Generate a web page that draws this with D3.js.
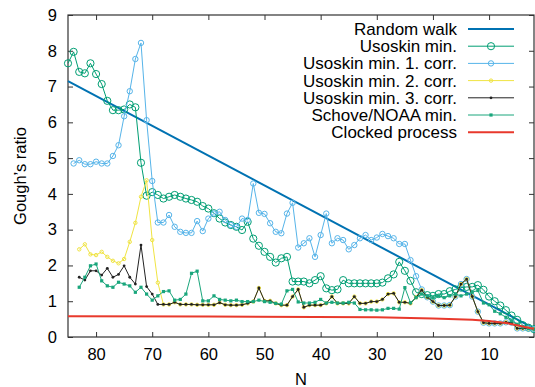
<!DOCTYPE html>
<html>
<head>
<meta charset="utf-8">
<script src="https://cdn.jsdelivr.net/npm/d3@7"></script>
<style>
  body { margin: 0; background: #fff; }
  svg { display: block; }
  text { font-family: "Liberation Sans", Arial, Helvetica, sans-serif; }
</style>
</head>
<body>
<div id="chart"></div>
<script>
// taille du dessin
const width = 535, height = 387;
const margin = { top: 15, right: 1, bottom: 50, left: 68 };

// ---- données ----
const xTicks = [80, 70, 60, 50, 40, 30, 20, 10];
const yTicks = [0, 1, 2, 3, 4, 5, 6, 7, 8, 9];

const randomWalkN = [85, 2];
const randomWalkVals = [7.15, 0.24];

// Usoskin min., N = 85 .. 2
const usoskinStart = 85;
const usoskinVals = [7.65, 7.97, 7.41, 7.37, 7.65, 7.35, 7.07, 6.6, 6.34, 6.34,
  6.36, 6.5, 6.42, 4.87, 3.95, 4.05, 3.97, 3.87, 3.92, 3.97,
  3.92, 3.87, 3.83, 3.78, 3.66, 3.59, 3.46, 3.31, 3.2, 3.13,
  3.08, 2.99, 3.22, 2.75, 2.55, 2.38, 2.24, 2.08, 2.2, 2.24,
  1.55, 1.55, 1.55, 1.5, 1.59, 1.7, 1.36, 1.31, 1.33, 1.59,
  1.5, 1.5, 1.5, 1.5, 1.5, 1.5, 1.52, 1.64, 1.75, 2.1,
  1.85, 1.57, 1.25, 1.2, 1.17, 1.15, 1.2, 1.2, 1.28, 1.33,
  1.38, 1.4, 1.4, 1.45, 1.32, 1.13, 1.0, 0.88, 0.75, 0.6,
  0.48, 0.33, 0.26, 0.22];

// Usoskin min. 3. corr., N = 83 .. 2
const corr3Start = 83;
const corr3Vals = [1.67, 1.59, 1.85, 1.85, 1.73, 1.92, 1.67, 1.75, 1.99, 1.67,
  1.48, 2.57, 1.41, 1.2, 0.91, 0.91, 0.91, 0.97, 0.91, 0.91,
  0.91, 0.9, 0.9, 0.9, 0.9, 0.96, 0.9, 0.89, 0.89, 0.9,
  0.94, 0.99, 1.37, 1.01, 1.01, 0.94, 0.89, 0.89, 1.13, 1.33,
  0.83, 0.89, 0.89, 0.89, 0.94, 1.13, 0.94, 0.94, 0.94, 1.13,
  0.94, 0.94, 0.99, 0.99, 1.05, 1.2, 1.22, 0.97, 0.97, 0.94,
  1.11, 1.31, 1.11, 0.99, 0.88, 0.88, 0.89, 1.13, 1.48, 1.62,
  1.13, 0.71, 0.4, 0.38, 0.38, 0.38, 0.41, 0.4, 0.24, 0.24,
  0.24, 0.22];

// Usoskin min. 1. corr., N = 84 .. 22 (ensuite confondu avec 3. corr.)
const corr1Start = 84;
const corr1Head = [4.85, 4.94, 4.83, 4.83, 4.9, 4.85, 4.85, 5.06, 5.36, 6.17,
  6.87, 7.77, 8.22, 6.06, 4.36, 3.2, 3.2, 3.41, 3.08, 2.94,
  2.91, 2.91, 3.24, 2.96, 3.31, 3.45, 3.5, 3.27, 3.13, 3.08,
  3.31, 3.27, 4.29, 3.47, 3.44, 3.18, 2.94, 2.9, 3.45, 3.75,
  2.5, 2.62, 2.76, 2.24, 2.85, 3.45, 2.62, 2.76, 2.71, 2.45,
  2.57, 2.76, 2.85, 2.71, 2.78, 2.88, 2.82, 2.76, 2.6, 2.6,
  2.15, 1.7, 1.33];

// Usoskin min. 2. corr., N = 83 .. 69 (ensuite confondu avec 3. corr.)
const corr2Start = 83;
const corr2Head = [2.45, 2.59, 2.31, 2.29, 2.38, 2.24, 2.13, 2.06, 2.18, 2.66,
  3.19, 3.92, 4.38, 2.71, 1.52];

// Schove/NOAA min., N = 83 .. 2
const schoveStart = 83;
const schoveVals = [1.39, 1.67, 1.99, 2.04, 1.57, 1.43, 1.39, 1.53, 1.48, 1.43,
  1.25, 1.39, 1.2, 1.03, 1.15, 1.27, 1.29, 1.03, 1.05, 1.2,
  1.78, 1.84, 1.01, 1.01, 1.15, 1.05, 1.03, 1.01, 1.03, 0.99,
  0.99, 0.99, 1.03, 0.99, 0.97, 0.94, 0.92, 1.29, 1.33, 0.98,
  0.95, 0.95, 0.97, 1.05, 0.95, 0.97, 0.95, 0.95, 0.97, 0.95,
  0.77, 0.76, 0.76, 0.75, 0.76, 0.8, 0.8, 0.78, 1.38, 0.96,
  1.1, 1.2, 1.15, 1.1, 1.15, 1.1, 1.15, 1.2, 1.15, 1.2,
  1.25, 1.3, 0.95, 0.9, 0.72, 0.65, 0.55, 0.45, 0.35, 0.28,
  0.24, 0.22];

const clockedN = [85, 60, 30, 20, 13, 10, 7, 5, 3, 2];
const clockedVals = [0.58, 0.57, 0.55, 0.52, 0.48, 0.45, 0.39, 0.33, 0.26, 0.23];

// ---- construction des séries ----
function seq(start, vals) {
  return vals.map(function(v, i) { return { n: start - i, v: v }; });
}
function pairs(ns, vals) {
  return ns.map(function(n, i) { return { n: n, v: vals[i] }; });
}

const corr1Vals = corr1Head.concat(corr3Vals.slice(corr3Start - (corr1Start - corr1Head.length)));
const corr2Vals = corr2Head.concat(corr3Vals.slice(corr3Start - (corr2Start - corr2Head.length)));

const series = [
  { name: "Random walk", data: pairs(randomWalkN, randomWalkVals), color: "#0072b2", lw: 2, marker: null },
  { name: "Usoskin min.", data: seq(usoskinStart, usoskinVals), color: "#009e73", lw: 1, marker: "circle", r: 3.6 },
  { name: "Usoskin min. 1. corr.", data: seq(corr1Start, corr1Vals), color: "#56b4e9", lw: 1, marker: "circle", r: 2.7 },
  { name: "Usoskin min. 2. corr.", data: seq(corr2Start, corr2Vals), color: "#f0e442", lw: 1, marker: "circle", r: 1.7 },
  { name: "Usoskin min. 3. corr.", data: seq(corr3Start, corr3Vals), color: "#222222", lw: 1, marker: "dot", r: 1.4 },
  { name: "Schove/NOAA min.", data: seq(schoveStart, schoveVals), color: "#1aa67c", lw: 1, marker: "square", r: 1.6 },
  { name: "Clocked process", data: pairs(clockedN, clockedVals), color: "#e8392c", lw: 2, marker: null }
];

// ---- dessin ----
const svg = d3.select("#chart").append("svg")
  .attr("width", width)
  .attr("height", height);

const w = width - margin.left - margin.right,
  h = height - margin.top - margin.bottom;

const g = svg.append("g")
  .attr("transform", "translate(" + margin.left + "," + margin.top + ")");

const x = d3.scaleLinear().domain([85, 2]).range([0, w]);
const y = d3.scaleLinear().domain([0, 9]).range([h, 0]);

// axes (ticks vers l'intérieur, comme gnuplot)
function styleAxis(sel) {
  sel.select(".domain").remove();
  sel.selectAll(".tick line").attr("stroke", "#333");
  sel.selectAll(".tick text").attr("fill", "#000").style("font-size", "16.5px");
}

g.append("g")
  .call(d3.axisLeft(y).tickValues(yTicks).tickSize(-5).tickPadding(11))
  .call(styleAxis);
g.append("g")
  .attr("transform", "translate(" + w + ",0)")
  .call(d3.axisRight(y).tickValues(yTicks).tickSize(-5).tickFormat(""))
  .call(styleAxis);
g.append("g")
  .attr("transform", "translate(0," + h + ")")
  .call(d3.axisBottom(x).tickValues(xTicks).tickSize(-5).tickPadding(11))
  .call(styleAxis);
g.append("g")
  .call(d3.axisTop(x).tickValues(xTicks).tickSize(-5).tickFormat(""))
  .call(styleAxis);

g.append("rect")
  .attr("width", w)
  .attr("height", h)
  .attr("fill", "none")
  .attr("stroke", "#333")
  .attr("stroke-width", 1.2);

// titres des axes
svg.append("text")
  .attr("transform", "translate(26," + (margin.top + h / 2) + ") rotate(-90)")
  .attr("text-anchor", "middle")
  .style("font-size", "16.5px")
  .text("Gough\u2019s ratio");

svg.append("text")
  .attr("x", margin.left + w / 2)
  .attr("y", 385)
  .attr("text-anchor", "middle")
  .style("font-size", "16.5px")
  .text("N");

const line = d3.line()
  .x(function(d) { return x(d.n); })
  .y(function(d) { return y(d.v); });

function drawMarker(sel, s, cx, cy) {
  if (s.marker === "circle") {
    sel.append("circle").attr("cx", cx).attr("cy", cy).attr("r", s.r)
      .attr("fill", "none").attr("stroke", s.color).attr("stroke-width", 1);
  } else if (s.marker === "dot") {
    sel.append("circle").attr("cx", cx).attr("cy", cy).attr("r", s.r)
      .attr("fill", s.color);
  } else if (s.marker === "square") {
    sel.append("rect").attr("x", cx - s.r).attr("y", cy - s.r)
      .attr("width", 2 * s.r).attr("height", 2 * s.r)
      .attr("fill", s.color);
  }
}

series.forEach(function(s) {
  const sg = g.append("g");
  sg.append("path")
    .datum(s.data)
    .attr("d", line)
    .attr("fill", "none")
    .attr("stroke", s.color)
    .attr("stroke-width", s.lw);
  if (s.marker) {
    s.data.forEach(function(d) { drawMarker(sg, s, x(d.n), y(d.v)); });
  }
});

// légende
const legend = svg.append("g");
const rowH = 17.2, firstRow = 29;
series.forEach(function(s, i) {
  const cy = firstRow + i * rowH;
  legend.append("text")
    .attr("x", 457)
    .attr("y", cy)
    .attr("dy", "0.35em")
    .attr("text-anchor", "end")
    .style("font-size", "17px")
    .text(s.name);
  legend.append("line")
    .attr("x1", 468).attr("x2", 514)
    .attr("y1", cy).attr("y2", cy)
    .attr("stroke", s.color)
    .attr("stroke-width", s.lw);
  drawMarker(legend, s, 491, cy);
});
</script>
</body>
</html>
